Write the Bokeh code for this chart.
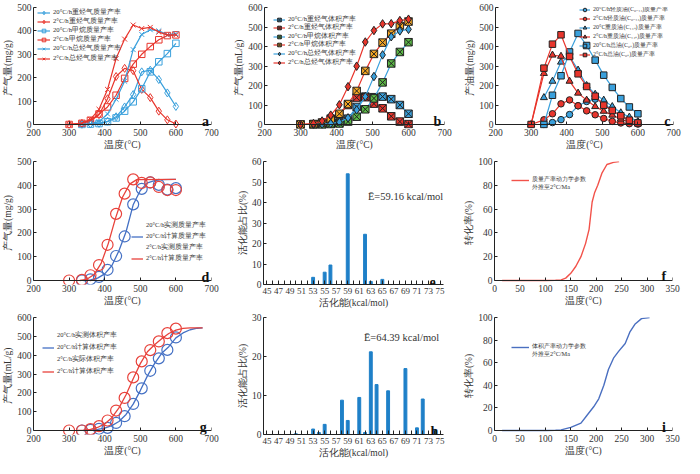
from bokeh.plotting import figure
from bokeh.models import (Range1d, SingleIntervalTicker, FixedTicker, Legend,
                          LegendItem, Label, LinearAxis)
from bokeh.layouts import column, row
from bokeh.embed import file_html
from bokeh.resources import INLINE

# ---------------- data ----------------
T_2 = [300, 336, 360, 384, 408, 432, 456, 480, 504, 528, 552, 576, 600]
T_20 = [336, 360, 384, 408, 432, 456, 480, 504, 528, 552, 576, 600]

# (a) gas mass yields, mg/g
a_heavy_20 = [0, 2, 5, 14, 33, 75, 128, 225, 232, 192, 135, 77]
a_heavy_2 = [0, 5, 15, 42, 110, 205, 240, 230, 150, 115, 57, 20, 2]
a_ch4_20 = [0, 2, 4, 12, 28, 57, 97, 153, 225, 268, 303, 347]
a_ch4_2 = [0, 5, 18, 45, 75, 125, 197, 258, 300, 333, 362, 380, 383]
a_total_20 = [0, 4, 12, 45, 108, 185, 320, 385, 405, 400, 383, 388]
a_total_2 = [0, 6, 22, 65, 150, 282, 365, 425, 410, 415, 395, 383, 383]
a_labels = ["20°C/h重烃气质量产率", "2°C/h重烃气质量产率", "20°C/h甲烷质量产率",
            "2°C/h甲烷质量产率", "20°C/h总烃气质量产率", "2°C/h总烃气质量产率"]

# (b) gas volume yields, mL/g
b_heavy_20 = [0, 0, 3, 10, 30, 90, 143, 140, 143, 130, 100, 55]
b_heavy_2 = [0, 2, 10, 30, 52, 100, 138, 140, 107, 83, 42, 15, 2]
b_ch4_20 = [0, 0, 2, 5, 15, 40, 78, 134, 216, 313, 372, 422]
b_ch4_2 = [0, 2, 8, 25, 55, 105, 172, 275, 362, 420, 466, 505, 528]
b_total_20 = [0, 2, 5, 12, 34, 75, 143, 246, 357, 450, 480, 488]
b_total_2 = [0, 5, 18, 48, 101, 194, 299, 423, 482, 516, 517, 533, 540]
b_labels = ["20°C/h重烃气体积产率", "2°C/h重烃气体积产率", "20°C/h甲烷体积产率",
            "2°C/h甲烷体积产率", "20°C/h总烃气体积产率", "2°C/h总烃气体积产率"]

# (c) oil mass yields, mg/g
c_light_20 = [0, 10, 25, 51, 96, 118, 130, 110, 72, 42, 22, 12]
c_light_2 = [0, 24, 55, 106, 126, 96, 70, 50, 31, 16, 8, 4, 2]
c_heavy_20 = [138, 222, 320, 350, 279, 200, 155, 125, 92, 60, 38, 15]
c_heavy_2 = [0, 262, 356, 350, 222, 161, 125, 92, 68, 48, 28, 12, 4]
c_total_20 = [0, 150, 250, 372, 467, 405, 330, 253, 190, 133, 90, 55]
c_total_2 = [0, 289, 412, 460, 349, 260, 195, 145, 99, 72, 45, 22, 8]
c_labels = ["20°C/h轻质油(C₆₋₁₄)质量产率", "2°C/h轻质油(C₆₋₁₄)质量产率",
            "20°C重质油(C₁₄₊)质量产率", "2°C/h重质油(C₁₄₊)质量产率",
            "20°C/h总油(C₆₊)质量产率", "2°C/h总油(C₆₊)质量产率"]

# (d) measured vs calculated mass yield
d_meas_20 = [0, 5, 15, 45, 103, 185, 320, 385, 412, 402, 382, 388]
d_meas_2 = [0, 3, 22, 65, 150, 280, 365, 425, 410, 412, 393, 380, 380]
d_calc_T_20 = [340, 360, 380, 400, 420, 440, 460, 480, 500, 520, 540, 560, 600]
d_calc_20 = [0, 3, 10, 28, 62, 125, 205, 318, 378, 410, 420, 424, 425]
d_calc_T_2 = [330, 350, 370, 390, 410, 430, 450, 470, 490, 600]
d_calc_2 = [0, 5, 25, 72, 155, 260, 350, 405, 424, 425]
d_labels = ["20°C/h实测质量产率", "20°C/h计算质量产率", "2°C/h实测质量产率", "2°C/h计算质量产率"]

# (e) activation energy distribution (mass)
e_E = [53, 55, 56, 59, 62, 63, 65]
e_pct = [3.5, 6.0, 9.5, 54.0, 24.5, 1.5, 2.5]
e_text = "Ē=59.16 kcal/mol"

# (f) extrapolated conversion (mass)
f_T = [15, 60, 100, 120, 131, 140, 150, 160, 170, 179, 186, 192, 197, 203, 211, 221, 234, 245]
f_conv = [0, 0, 0, 0.2, 0.5, 2, 6, 12, 20, 31, 43, 66, 74, 80, 90, 97.5, 99.3, 100]
f_labels = ["质量产率动力学参数", "外推至2°C/Ma"]

# (g) measured vs calculated volume yield
g_meas_20 = [0, 3, 9, 14, 40, 76, 141, 224, 317, 383, 428, 494]
g_meas_2 = [0, 0, 7, 23, 53, 106, 173, 282, 367, 427, 473, 517, 541]
g_calc_T_20 = [340, 360, 380, 400, 420, 440, 460, 480, 500, 520, 540, 560, 580, 600, 620, 640, 660, 675]
g_calc_20 = [0, 2, 6, 13, 26, 48, 85, 140, 212, 290, 355, 410, 445, 492, 518, 535, 543, 545]
g_calc_T_2 = [320, 340, 360, 380, 400, 420, 440, 460, 480, 500, 520, 540, 560, 580, 600, 620, 640, 675]
g_calc_2 = [0, 2, 6, 16, 35, 68, 120, 190, 275, 355, 418, 455, 487, 515, 533, 542, 545, 545]
g_labels = ["20°C/h实测体积产率", "20°C/h计算体积产率", "2°C/h实际体积产率", "2°C/h计算体积产率"]

# (h) activation energy distribution (volume)
h_E = [50, 53, 54, 55, 58, 59, 61, 62, 63, 64, 66, 69, 71, 72, 74]
h_pct = [0.2, 1.4, 0.5, 2.6, 8.8, 3.6, 9.5, 0.5, 21.2, 12.8, 11.2, 16.9, 1.7, 9.1, 1.3]
h_text = "Ē=64.39 kcal/mol"

# (i) extrapolated conversion (volume)
i_T = [15, 60, 100, 120, 131, 150, 170, 182, 195, 205, 215, 224, 234, 244, 257, 266, 276, 289, 305]
i_conv = [0, 0, 0, 0.2, 0.5, 2.8, 6.5, 13.5, 21, 28, 40, 54, 64, 70, 77, 87, 94, 99, 100]
i_labels = ["体积产率动力学参数", "外推至2°C/Ma"]

E_TICKS = [45, 47, 49, 51, 53, 55, 57, 59, 61, 63, 65, 67, 69, 71, 73, 75]
E_MINOR = [44, 46, 48, 50, 52, 54, 56, 58, 60, 62, 64, 66, 68, 70, 72, 74]
PANEL = ["a", "b", "c", "d", "e", "f", "g", "h", "i"]

XL_T = "温度(°C)"
XL_E = "活化能(kcal/mol)"

# ---------------- style ----------------
SERIF = "Liberation Serif"
BLUE = "#3aa0dc"
RED = "#e8352c"
GREEN = "#5cb947"
ORANGE = "#f5a623"
DBLUE = "#4470c4"
DRED = "#e8423b"
BAR = "#1f80c8"
INK = "#222222"
TXT = "#333333"

FW = [178, 180, 178]      # frame widths per column
RIGHTS = [20, 18, 14]
FH = [121, 123, 117]      # frame heights per row
LEFT = 32
TOP = 7
BOTTOM = 26
LEG_SHIFT = 8             # legend anchor correction (px)


def style_axis(ax, fs="9.5px"):
    ax.axis_line_color = INK
    ax.major_tick_line_color = INK
    ax.major_tick_out = 0
    ax.major_tick_in = 3
    ax.minor_tick_line_color = None
    ax.major_label_text_font = SERIF
    ax.major_label_text_font_size = fs
    ax.major_label_text_color = TXT
    ax.axis_label_text_font = SERIF
    ax.axis_label_text_font_size = "9.5px"
    ax.axis_label_text_font_style = "normal"
    ax.axis_label_text_color = TXT
    ax.axis_label_standoff = 1
    ax.major_label_standoff = 2


def base(col, rw, xr, yr, xt, yt, xlabel, ylabel, pad_px=4):
    span = yr[1] - yr[0]
    pad = span * pad_px / (FH[rw] - pad_px) if pad_px else 0
    p = figure(frame_width=FW[col], frame_height=FH[rw], output_backend="svg",
               toolbar_location=None,
               x_range=Range1d(xr[0], xr[1]),
               y_range=Range1d(yr[0] - pad, yr[1]),
               min_border_left=LEFT, min_border_right=RIGHTS[col],
               min_border_top=TOP, min_border_bottom=BOTTOM)
    p.grid.visible = False
    p.outline_line_color = None
    p.yaxis.ticker = SingleIntervalTicker(interval=yt, num_minor_ticks=0)
    p.yaxis.bounds = (yr[0], yr[1])
    style_axis(p.yaxis[0])
    style_axis(p.xaxis[0])
    p.xaxis.axis_label = xlabel
    p.yaxis.axis_label = ylabel
    if xt is not None:
        tk = SingleIntervalTicker(interval=xt, num_minor_ticks=0)
        p.xaxis.ticker = tk
        if pad_px:
            # labelled axis at frame bottom (labels only); axis line + ticks at y = 0
            p.xaxis.axis_line_color = None
            p.xaxis.major_tick_line_color = None
            p.xaxis.major_tick_in = 0
            p.xaxis.major_label_standoff = 0
            zero = LinearAxis(ticker=tk, fixed_location=0,
                              major_label_overrides={v: "" for v in range(int(xr[0]), int(xr[1]) + 1, xt)})
            style_axis(zero)
            zero.major_label_text_font_size = "0px"
            zero.major_label_standoff = 0
            zero.axis_label_standoff = 0
            p.add_layout(zero, "below")
    return p


def legend_stack(p, rw, rows, x, c0, step, gw=13, gh=9, fs="6.7px"):
    """one single-entry legend per row, centred c0 + k*step px below the frame top"""
    for k, (lab, rends) in enumerate(rows):
        yc = c0 + k * step + LEG_SHIFT
        yb = FH[rw] - yc - gh / 2.0
        p.add_layout(Legend(items=[LegendItem(label=lab, renderers=rends)],
                            location=(x, yb), glyph_width=gw, glyph_height=gh,
                            label_height=gh, spacing=0, padding=0, margin=0,
                            border_line_color=None, background_fill_alpha=0,
                            label_standoff=3, label_text_font=SERIF,
                            label_text_font_size=fs, label_text_color=TXT))


def letter(p, x, y, t):
    p.add_layout(Label(x=x, y=y, text=t, text_font=SERIF, text_font_style="bold",
                       text_font_size="14px", text_color="#111", text_align="center",
                       text_baseline="alphabetic"))


def series(p, xs, ys, lc, marker, size, fill, mline=None, lw=1.2):
    r1 = p.line(xs, ys, line_color=lc, line_width=lw)
    r2 = p.scatter(xs, ys, marker=marker, size=size, fill_color=fill,
                   line_color=mline if mline else lc, line_width=1.0)
    return [r1, r2]


# ---------------- (a) ----------------
pa = base(0, 0, (200, 700), (0, 500), 100, 100, XL_T, "产气量(mg/g)")
ra = [
    series(pa, T_20, a_heavy_20, BLUE, "diamond", 8, None),
    series(pa, T_2, a_heavy_2, RED, "diamond", 8, None),
    series(pa, T_20, a_ch4_20, BLUE, "square", 6.5, None),
    series(pa, T_2, a_ch4_2, RED, "square", 6.5, None),
    series(pa, T_20, a_total_20, BLUE, "x", 7, None),
    series(pa, T_2, a_total_2, RED, "x", 7, None),
]
legend_stack(pa, 0, list(zip(a_labels, ra)), 4, -3, 9.2)
letter(pa, 683, 14, PANEL[0])

# ---------------- (b) ----------------
pb = base(1, 0, (200, 700), (0, 600), 100, 100, XL_T, "产气量(mL/g)")
rb = [
    series(pb, T_20, b_heavy_20, BLUE, "square_x", 7.5, BLUE, INK),
    series(pb, T_2, b_heavy_2, RED, "square_x", 7.5, RED, INK),
    series(pb, T_20, b_ch4_20, BLUE, "square_x", 7.5, GREEN, INK),
    series(pb, T_2, b_ch4_2, RED, "square_x", 7.5, ORANGE, INK),
    series(pb, T_20, b_total_20, BLUE, "diamond", 8.5, BLUE, INK),
    series(pb, T_2, b_total_2, RED, "diamond", 8.5, RED, INK),
]
legend_stack(pb, 0, list(zip(b_labels, rb)), 9, 4, 8.6, gw=12)
letter(pb, 680, 17, PANEL[1])

# ---------------- (c) ----------------
pc = base(2, 0, (200, 700), (0, 600), 100, 100, XL_T, "产油量(mg/g)")
rc = [
    series(pc, T_20, c_light_20, BLUE, "circle", 6.5, BLUE, INK),
    series(pc, T_2, c_light_2, RED, "circle", 6.5, RED, INK),
    series(pc, T_20, c_heavy_20, BLUE, "triangle", 7, BLUE, INK),
    series(pc, T_2, c_heavy_2, RED, "triangle", 7, RED, INK),
    series(pc, T_20, c_total_20, BLUE, "square", 6.5, BLUE, INK),
    series(pc, T_2, c_total_2, RED, "square", 6.5, RED, INK),
]
legend_stack(pc, 0, list(zip(c_labels, rc)), 84, -6, 9, gw=11, fs="6.0px")
letter(pc, 683, 17, PANEL[2])

# ---------------- (d) ----------------
pd_ = base(0, 1, (200, 700), (0, 500), 100, 100, XL_T, "产气量(mg/g)")
pd_.scatter(T_20, d_meas_20, marker="circle", size=11, fill_color=None,
            line_color=DBLUE, line_width=1.2)
d2 = pd_.line(d_calc_T_20, d_calc_20, line_color=DBLUE, line_width=1.3)
pd_.scatter(T_2, d_meas_2, marker="circle", size=11, fill_color=None,
            line_color=DRED, line_width=1.2)
d4 = pd_.line(d_calc_T_2, d_calc_2, line_color=DRED, line_width=1.3)
d1 = pd_.scatter(x=[], y=[], marker="circle", size=6, fill_color=None,
                 line_color=DBLUE, line_width=1.2)
d3 = pd_.scatter(x=[], y=[], marker="circle", size=6, fill_color=None,
                 line_color=DRED, line_width=1.2)
legend_stack(pd_, 1, list(zip(d_labels, [[d1], [d2], [d3], [d4]])), 98, 56, 11,
             gw=12, fs="6.5px")
letter(pd_, 683, 14, PANEL[3])

# ---------------- (e) ----------------
pe = base(1, 1, (44.4, 75.6), (0, 60), None, 10, XL_E, "活化能占比(%)", pad_px=0)
pe.xaxis.ticker = FixedTicker(ticks=E_TICKS, minor_ticks=E_MINOR)
pe.xaxis.major_tick_in = 4
pe.xaxis.minor_tick_in = 4
pe.xaxis.minor_tick_out = 0
pe.xaxis.minor_tick_line_color = INK
pe.xaxis.major_label_text_font_size = "9px"
pe.xaxis.major_label_standoff = 3
pe.vbar(x=e_E, top=e_pct, width=0.5, fill_color=BAR, line_color=BAR)
pe.add_layout(Label(x=62.5, y=43.0, text=e_text, text_font=SERIF, text_font_size="10.5px",
                    text_color=TXT, text_baseline="middle"))
letter(pe, 73.7, 1.2, PANEL[4])

# ---------------- (f) ----------------
pf = base(2, 1, (0, 350), (0, 100), 50, 20, XL_T, "转化率(%)")
rf = pf.line(f_T, f_conv, line_color="#f2524a", line_width=1.4)
rf2 = pf.line(x=[], y=[], line_alpha=0)
legend_stack(pf, 1, [(f_labels[0], [rf]), (f_labels[1], [rf2])], 17, 11, 7.5,
             gw=18, gh=8, fs="6.3px")
letter(pf, 333, 3, PANEL[5])

# ---------------- (g) ----------------
pg = base(0, 2, (200, 700), (0, 600), 100, 100, XL_T, "产气量(mL/g)")
pg.scatter(T_20, g_meas_20, marker="circle", size=11, fill_color=None,
           line_color=DBLUE, line_width=1.2)
g2 = pg.line(g_calc_T_20, g_calc_20, line_color=DBLUE, line_width=1.3)
pg.scatter(T_2, g_meas_2, marker="circle", size=11, fill_color=None,
           line_color=DRED, line_width=1.2)
g4 = pg.line(g_calc_T_2, g_calc_2, line_color=DRED, line_width=1.3)
g1 = pg.scatter(x=[], y=[], marker="circle", size=6, fill_color=None,
                line_color=DBLUE, line_width=1.2)
g3 = pg.scatter(x=[], y=[], marker="circle", size=6, fill_color=None,
                line_color=DRED, line_width=1.2)
legend_stack(pg, 2, list(zip(g_labels, [[g1], [g2], [g3], [g4]])), 9, 10, 12,
             gw=12, fs="6.5px")
letter(pg, 677, 18, PANEL[6])

# ---------------- (h) ----------------
ph = base(1, 2, (44.4, 75.6), (0, 30), None, 10, XL_E, "活化能占比(%)", pad_px=0)
ph.xaxis.ticker = FixedTicker(ticks=E_TICKS, minor_ticks=E_MINOR)
ph.xaxis.major_tick_in = 4
ph.xaxis.minor_tick_in = 4
ph.xaxis.minor_tick_out = 0
ph.xaxis.minor_tick_line_color = INK
ph.xaxis.major_label_text_font_size = "9px"
ph.xaxis.major_label_standoff = 3
ph.vbar(x=h_E, top=h_pct, width=0.5, fill_color=BAR, line_color=BAR)
ph.add_layout(Label(x=61.8, y=24.8, text=h_text, text_font=SERIF, text_font_size="10.5px",
                    text_color=TXT, text_baseline="middle"))
letter(ph, 74.0, 0.7, PANEL[7])

# ---------------- (i) ----------------
pi = base(2, 2, (0, 350), (0, 100), 50, 20, XL_T, "转化率(%)")
ri = pi.line(i_T, i_conv, line_color="#4a6fc0", line_width=1.4)
ri2 = pi.line(x=[], y=[], line_alpha=0)
legend_stack(pi, 2, [(i_labels[0], [ri]), (i_labels[1], [ri2])], 17, 22, 7.5,
             gw=18, gh=8, fs="6.3px")
letter(pi, 333, 3, PANEL[8])

layout = column(row(pa, pb, pc), row(pd_, pe, pf), row(pg, ph, pi))
open("out.html", "w").write(file_html(layout, INLINE))
